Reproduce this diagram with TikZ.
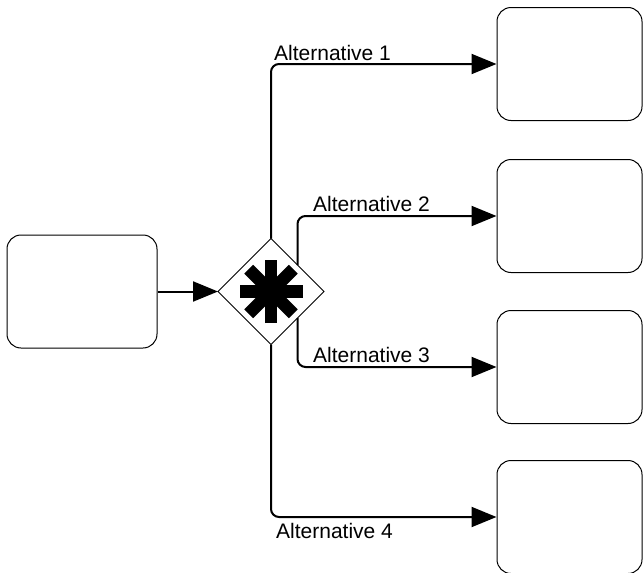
\documentclass[tikz,border=0pt]{standalone}
\usepackage{fontspec}
\setmainfont{Liberation Sans}
\usetikzlibrary{shapes.geometric,arrows.meta}
\tikzset{
  tache/.style={draw, line width=1pt, rounded corners=14pt, minimum height=113pt, inner sep=0pt},
  porte/.style={draw, diamond, line width=1pt, fill=white, minimum width=106pt, minimum height=106pt, inner sep=0pt, outer sep=0pt},
  fleche/.style={line width=2pt, rounded corners=8pt, -{Triangle[length=25pt,width=20pt]}},
  etiq/.style={font=\fontsize{21}{25}\selectfont, inner sep=0pt, anchor=base west}
}
\begin{document}
\begin{tikzpicture}[x=1pt, y=-1pt]
		\useasboundingbox (0,0) rectangle (643,573);
		%Noeuds du diagramme
		\node[tache, minimum width=150pt] (D) at (82,291.5) {};
		\node[porte] (G) at (271,291.5) {};
		\node[tache, minimum width=145pt] (A1) at (569.5,64) {};
		\node[tache, minimum width=145pt] (A2) at (569.5,216) {};
		\node[tache, minimum width=145pt] (A3) at (569.5,367) {};
		\node[tache, minimum width=145pt] (A4) at (569.5,517) {};
		%Etoile de la porte
		\foreach \a in {0,45,90,135}
			\draw[line width=12.5pt] ([shift={(\a:31.5)}]G.center) -- ([shift={(\a+180:31.5)}]G.center);
		%Etiquettes
		\node[etiq] (E1) at (274,60) {Alternative 1};
		\node[etiq] (E2) at (313,211) {Alternative 2};
		\node[etiq] (E3) at (313,362) {Alternative 3};
		\node[etiq] (E4) at (276,538) {Alternative 4};
		%Arcs du flux
		\draw[fleche] (D.east) -- (G.west);
		\draw[fleche] (G.north) |- (A1.west);
		\draw[fleche] (G.north east) |- (A2.west);
		\draw[fleche] (G.south east) |- (A3.west);
		\draw[fleche] (G.south) |- (A4.west);
\end{tikzpicture}
\end{document}
